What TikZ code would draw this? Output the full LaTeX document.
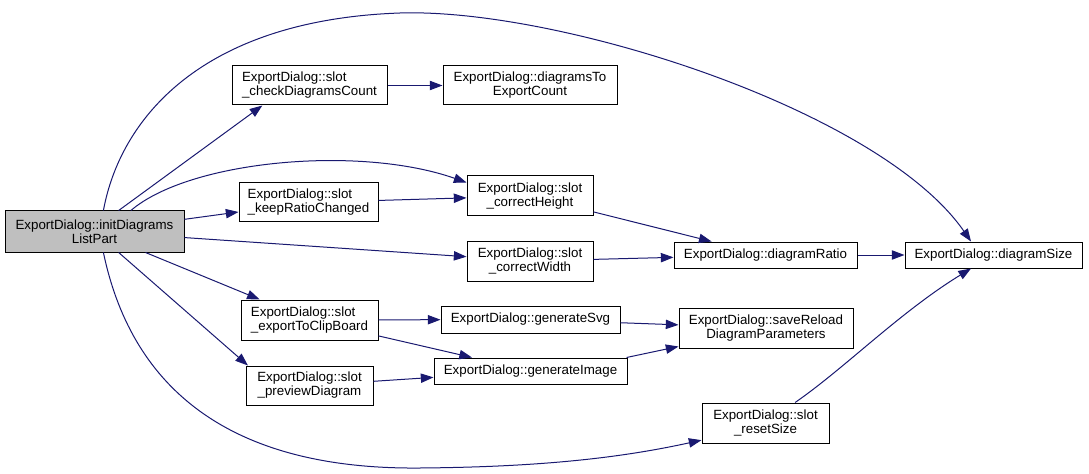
\documentclass[tikz,border=0pt]{standalone}
\usepackage{fontspec}
\setmainfont{Liberation Sans}
\usetikzlibrary{arrows.meta}
\definecolor{edgeblue}{HTML}{191970}
\definecolor{rootgrey}{HTML}{BFBFBF}
\begin{document}
\begin{tikzpicture}[x=0.75pt,y=-0.75pt,
  box/.style={draw=black,line width=0.75pt,fill=white,inner sep=0pt,
    font=\fontsize{10}{10.5}\selectfont,align=center},
  lbox/.style={box,align=left},
  wh/.style 2 args={minimum width=#1*0.75pt,minimum height=#2*0.75pt},
  edge/.style={draw=edgeblue,line width=0.75pt,-{Triangle[length=9.5pt,width=7pt]}}]
\useasboundingbox (0,0) rectangle (1089,474);

\node[box,fill=rootgrey,wh={179}{41}] (init) at (94.5,231.5) {ExportDialog::initDiagrams\\ListPart};
\node[lbox,wh={155}{39}] (check) at (309.5,85.5) {ExportDialog::slot\\\_checkDiagramsCount};
\node[box,wh={174}{39}] (dtec) at (530,85.5) {ExportDialog::diagramsTo\\ExportCount};
\node[lbox,wh={139}{39}] (keep) at (308.5,202.5) {ExportDialog::slot\\\_keepRatioChanged};
\node[box,wh={126}{40}] (cH) at (530,196) {ExportDialog::slot\\\_correctHeight};
\node[box,wh={126}{40}] (cW) at (530,261) {ExportDialog::slot\\\_correctWidth};
\node[lbox,wh={137}{40}] (exp) at (309.5,320) {ExportDialog::slot\\\_exportToClipBoard};
\node[box,wh={127}{39}] (prev) at (309.5,385.5) {ExportDialog::slot\\\_previewDiagram};
\node[box,wh={179}{27}] (gSvg) at (530.5,319.5) {ExportDialog::generateSvg};
\node[box,wh={193}{26}] (gImg) at (530.5,371) {ExportDialog::generateImage};
\node[box,wh={183}{26}] (dR) at (765.5,255) {ExportDialog::diagramRatio};
\node[box,wh={177}{26}] (dS) at (993.5,255) {ExportDialog::diagramSize};
\node[box,wh={174}{40}] (sR) at (766,328) {ExportDialog::saveReload\\DiagramParameters};
\node[box,wh={127}{40}] (rS) at (765.5,423) {ExportDialog::slot\\\_resetSize};

\draw[edge] (init.41) -- (check.203);
\draw[edge] (init.67.5) .. controls (120,120) and (200,20) .. (400,13)
  .. controls (560,8) and (880,110) .. (dS.149);
\draw[edge] (init.30) .. controls (190,160) and (360,145) .. (cH.168);
\draw[edge] (init) -- (keep);
\draw[edge] (init) -- (cW);
\draw[edge] (init) -- (exp);
\draw[edge] (init.-41) -- (prev.162);
\draw[edge] (init.-67.5) .. controls (130,380) and (220,470) .. (420,468)
  .. controls (540,467) and (620,458) .. (rS.195);
\draw[edge] (check) -- (dtec);
\draw[edge] (keep) -- (cH);
\draw[edge] (cH) -- (dR);
\draw[edge] (cW) -- (dR);
\draw[edge] (dR) -- (dS);
\draw[edge] (exp) -- (gSvg);
\draw[edge] (exp) -- (gImg);
\draw[edge] (prev) -- (gImg);
\draw[edge] (gSvg) -- (sR);
\draw[edge] (gImg.8) -- (sR);
\draw[edge] (rS) .. controls (845,368) and (900,312) .. (dS.211);
\end{tikzpicture}
\end{document}
